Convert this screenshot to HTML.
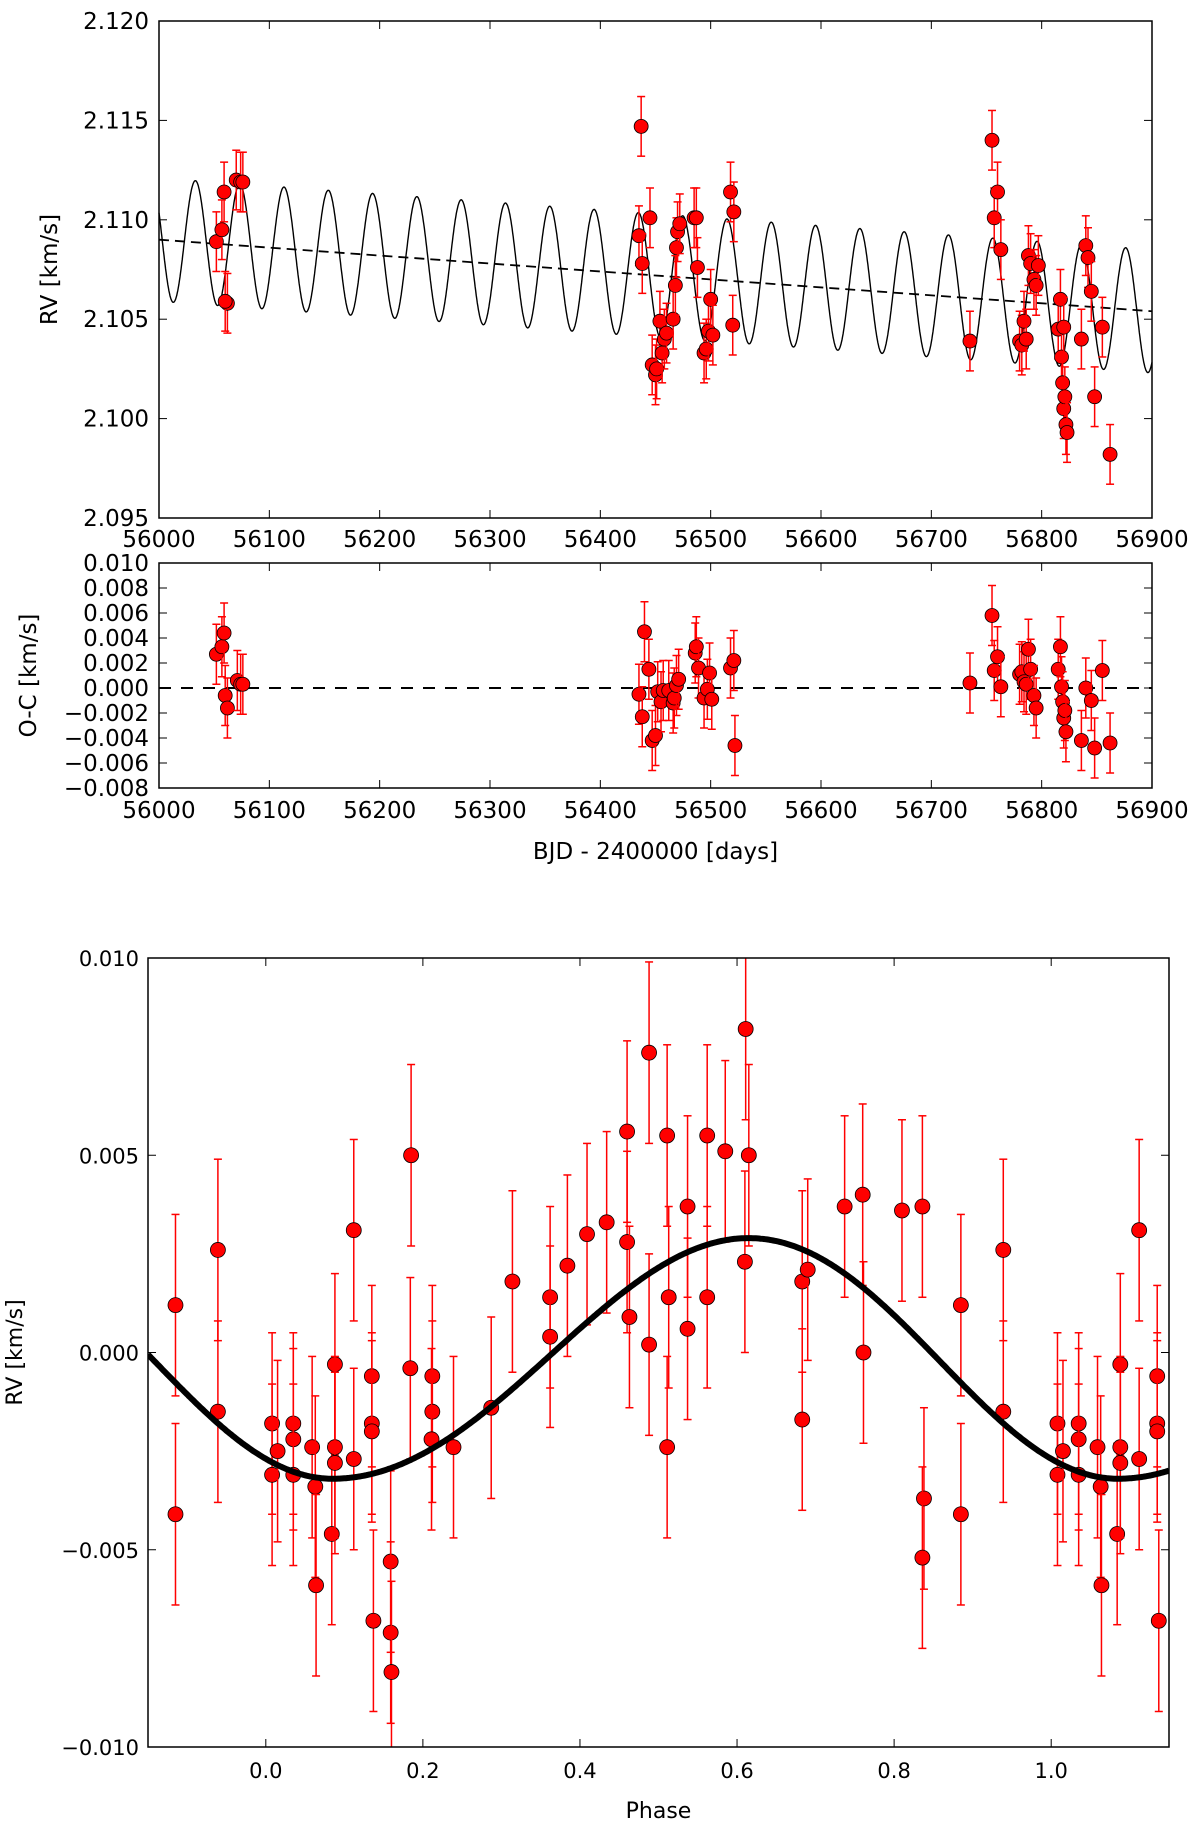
<!DOCTYPE html>
<html><head><meta charset="utf-8"><style>
html,body{margin:0;padding:0;background:#fff;}
svg{display:block;font-family:"DejaVu Sans","Liberation Sans",sans-serif;}
</style></head><body>
<svg id="svg" width="1200" height="1824" viewBox="0 0 1200 1824" xmlns="http://www.w3.org/2000/svg"></svg>
<script>
// ---- top panel: RV vs time ----
const rvTime = [56052,56057,56059,56062,56060,56070,56074,56076,
56435,56437,56438,56445,56447,56450,56451,56454,56456,56458,56460,56466,56468,56469,56470,56472,56485,56487,56488,56494,56496,56498,56500,56502,56518,56521,56520,
56735,56755,56757,56760,56763,56780,56782,56784,56786,56788,56790,56793,56795,56797,56815,56817,56818,56819,56820,56821,56822,56823,56820,56836,56840,56842,56845,56848,56855,56862];
const rvValue = [2.1089,2.1095,2.1114,2.1058,2.1059,2.1120,2.1119,2.1119,
2.1092,2.1147,2.1078,2.1101,2.1027,2.1022,2.1025,2.1049,2.1033,2.1040,2.1043,2.1050,2.1067,2.1086,2.1094,2.1098,2.1101,2.1101,2.1076,2.1033,2.1035,2.1044,2.1060,2.1042,2.1114,2.1104,2.1047,
2.1039,2.1140,2.1101,2.1114,2.1085,2.1039,2.1037,2.1049,2.1040,2.1082,2.1078,2.1070,2.1067,2.1077,2.1045,2.1060,2.1031,2.1018,2.1005,2.1011,2.0997,2.0993,2.1046,2.1040,2.1087,2.1081,2.1064,2.1011,2.1046,2.0982];
const rvErr = 0.0015;
const topYTicks = ["2.095","2.100","2.105","2.110","2.115","2.120"];
const timeTicks = ["56000","56100","56200","56300","56400","56500","56600","56700","56800","56900"];
const trendStart = 2.1090, trendEnd = 2.1054, modelK = 0.0031, modelP = 40.15, modelT0 = 56033;

// ---- middle panel: O-C ----
const ocTime = [56052,56057,56059,56060,56062,56071,56074,56076,
56435,56438,56440,56444,56447,56450,56452,56455,56457,56462,56466,56467,56469,56471,56486,56487,56489,56494,56497,56499,56501,56518,56521,56522,
56735,56755,56757,56760,56763,56780,56782,56784,56786,56788,56790,56793,56795,56815,56817,56818,56819,56820,56821,56822,56836,56840,56845,56848,56855,56862];
const ocValue = [0.0027,0.0033,0.0044,-0.0006,-0.0016,0.0006,0.0003,0.0003,
-0.0005,-0.0023,0.0045,0.0015,-0.0042,-0.0038,-0.0003,-0.0011,-0.0002,-0.0002,-0.0012,-0.0008,0.0002,0.0007,0.0028,0.0033,0.0016,-0.0008,-0.0001,0.0012,-0.0009,0.0016,0.0022,-0.0046,
0.0004,0.0058,0.0014,0.0025,0.0001,0.0011,0.0013,0.0005,0.0003,0.0031,0.0015,-0.0006,-0.0016,0.0015,0.0033,0.0001,-0.0011,-0.0024,-0.0018,-0.0035,-0.0042,0.0000,-0.0010,-0.0048,0.0014,-0.0044];
const ocErr = 0.0024;
const ocYTicks = ["\u22120.008","\u22120.006","\u22120.004","\u22120.002","0.000","0.002","0.004","0.006","0.008","0.010"];

// ---- bottom panel: phase folded ----
const phase = [0.885,0.885,0.939,0.939,0.008,0.008,0.015,0.035,0.035,0.035,0.059,0.063,0.064,0.084,0.088,0.088,0.088,0.112,0.112,0.135,0.135,0.135,0.137,0.159,0.159,0.160,0.185,0.184,0.212,0.212,0.211,0.239,0.287,0.314,0.362,0.362,0.384,0.409,0.434,0.460,0.460,0.463,0.488,0.488,0.511,0.513,0.511,0.537,0.537,0.562,0.562,0.585,0.611,0.615,0.610,0.683,0.683,0.690,0.737,0.760,0.761,0.810,0.836,0.838,0.836];
const phaseRV = [0.0012,-0.0041,0.0026,-0.0015,-0.0018,-0.0031,-0.0025,-0.0018,-0.0022,-0.0031,-0.0024,-0.0034,-0.0059,-0.0046,-0.0003,-0.0024,-0.0028,0.0031,-0.0027,-0.0006,-0.0018,-0.0020,-0.0068,-0.0053,-0.0071,-0.0081,0.0050,-0.0004,-0.0006,-0.0015,-0.0022,-0.0024,-0.0014,0.0018,0.0014,0.0004,0.0022,0.0030,0.0033,0.0056,0.0028,0.0009,0.0076,0.0002,0.0055,0.0014,-0.0024,0.0037,0.0006,0.0055,0.0014,0.0051,0.0082,0.0050,0.0023,0.0018,-0.0017,0.0021,0.0037,0.0040,0.0000,0.0036,0.0037,-0.0037,-0.0052];
const phaseErr = 0.0023;
const phaseYTicks = ["\u22120.010","\u22120.005","0.000","0.005","0.010"];
const phaseXTicks = ["0.0","0.2","0.4","0.6","0.8","1.0"];
const phaseModelMean = -0.00015, phaseModelAmp = 0.00305, phaseModelMin = 0.085, phaseModelSkew = 0.03;

const NS = "http://www.w3.org/2000/svg";
const svg = document.getElementById('svg');
function mk(tag, attrs, parent) {
  const e = document.createElementNS(NS, tag);
  for (const k in attrs) e.setAttribute(k, attrs[k]);
  (parent || svg).appendChild(e);
  return e;
}
function lin(d0, d1, r0, r1) { return v => r0 + (v - d0) / (d1 - d0) * (r1 - r0); }

function frame(g, L, T, R, B) {
  const f = mk('rect', {x: L, y: T, width: R - L, height: B - T, fill: 'none', stroke: '#000', 'stroke-width': 1.5}, g);
  
  
}
function errPoint(g, x, y, y1, y2, r, name) {
  const pg = mk('g', {}, g);
  
  
  mk('line', {x1: x, x2: x, y1: y1, y2: y2, stroke: '#ff0000', 'stroke-width': 1.5}, pg);
  mk('line', {x1: x - 4, x2: x + 4, y1: y1, y2: y1, stroke: '#ff0000', 'stroke-width': 1.5}, pg);
  mk('line', {x1: x - 4, x2: x + 4, y1: y2, y2: y2, stroke: '#ff0000', 'stroke-width': 1.5}, pg);
  mk('circle', {cx: x, cy: y, r: r, fill: '#ff0000', stroke: '#000', 'stroke-width': 0.8}, pg);
}
function text(g, x, y, s, size, anchor, name) {
  const t = mk('text', {x: x, y: y, 'font-size': size, 'text-anchor': anchor, fill: '#000'}, g);
  t.textContent = s;
  
  
  return t;
}

// ===== TOP PANEL =====
(function () {
  const L = 159, R = 1152, T = 21, B = 518;
  const g = mk('g', {});
  
  
  const xs = lin(56000, 56900, L, R), ys = lin(2.095, 2.120, B, T);
  let d = '';
  for (let t = 56000; t <= 56900; t += 0.5) {
    const tr = trendStart + (trendEnd - trendStart) * (t - 56000) / 900;
    const v = tr + modelK * Math.cos(2 * Math.PI * (t - modelT0) / modelP);
    d += (d ? 'L' : 'M') + xs(t).toFixed(1) + ',' + ys(v).toFixed(1);
  }
  const m = mk('path', {d: d, fill: 'none', stroke: '#000', 'stroke-width': 1.4}, g);
  
  
  const tl = mk('line', {x1: xs(56000), x2: xs(56900), y1: ys(trendStart), y2: ys(trendEnd), stroke: '#000', 'stroke-width': 1.8, 'stroke-dasharray': '10,6'}, g);
  
  
  rvTime.forEach((t, i) => {
    errPoint(g, xs(t), ys(rvValue[i]), ys(rvValue[i] + rvErr), ys(rvValue[i] - rvErr), 7, 'rv-point');
  });
  frame(g, L, T, R, B);
  topYTicks.forEach(s => {
    const v = parseFloat(s), y = ys(v);
    mk('line', {x1: L, x2: L + 8, y1: y, y2: y, stroke: '#000', 'stroke-width': 1}, g);
    mk('line', {x1: R, x2: R - 8, y1: y, y2: y, stroke: '#000', 'stroke-width': 1}, g);
    text(g, 149, y + 8, s, 23, 'end', 'y-tick-label');
  });
  timeTicks.forEach(s => {
    const x = xs(parseFloat(s));
    mk('line', {x1: x, x2: x, y1: B, y2: B - 8, stroke: '#000', 'stroke-width': 1}, g);
    mk('line', {x1: x, x2: x, y1: T, y2: T + 8, stroke: '#000', 'stroke-width': 1}, g);
    text(g, x, 547, s, 23, 'middle', 'x-tick-label');
  });
  const yl = text(g, 0, 0, 'RV [km/s]', 23, 'middle', 'y-axis-title');
  yl.setAttribute('transform', 'translate(57,' + ((T + B) / 2) + ') rotate(-90)');
})();

// ===== MIDDLE PANEL =====
(function () {
  const L = 159, R = 1152, T = 563, B = 788;
  const g = mk('g', {});
  
  
  const xs = lin(56000, 56900, L, R), ys = lin(-0.008, 0.010, B, T);
  const zl = mk('line', {x1: L, x2: R, y1: ys(0), y2: ys(0), stroke: '#000', 'stroke-width': 2, 'stroke-dasharray': '12,10'}, g);
  
  
  ocTime.forEach((t, i) => {
    errPoint(g, xs(t), ys(ocValue[i]), ys(ocValue[i] + ocErr), ys(ocValue[i] - ocErr), 7, 'residual-point');
  });
  frame(g, L, T, R, B);
  ocYTicks.forEach(s => {
    const v = parseFloat(s.replace('\u2212', '-')), y = ys(v);
    mk('line', {x1: L, x2: L + 8, y1: y, y2: y, stroke: '#000', 'stroke-width': 1}, g);
    mk('line', {x1: R, x2: R - 8, y1: y, y2: y, stroke: '#000', 'stroke-width': 1}, g);
    text(g, 149, y + 8, s, 23, 'end', 'y-tick-label');
  });
  timeTicks.forEach(s => {
    const x = xs(parseFloat(s));
    mk('line', {x1: x, x2: x, y1: B, y2: B - 8, stroke: '#000', 'stroke-width': 1}, g);
    mk('line', {x1: x, x2: x, y1: T, y2: T + 8, stroke: '#000', 'stroke-width': 1}, g);
    text(g, x, 818, s, 23, 'middle', 'x-tick-label');
  });
  const yl = text(g, 0, 0, 'O-C [km/s]', 23, 'middle', 'y-axis-title');
  yl.setAttribute('transform', 'translate(36,' + ((T + B) / 2) + ') rotate(-90)');
  text(g, (L + R) / 2, 859, 'BJD - 2400000 [days]', 23, 'middle', 'x-axis-title');
})();

// ===== BOTTOM PANEL =====
(function () {
  const L = 148, R = 1169, T = 958, B = 1747;
  const g = mk('g', {});
  
  
  const xs = lin(-0.15, 1.15, L, R), ys = lin(-0.010, 0.010, B, T);
  const clip = mk('clipPath', {id: 'pc'}, g);
  mk('rect', {x: L, y: T, width: R - L, height: B - T}, clip);
  const inner = mk('g', {'clip-path': 'url(#pc)'}, g);
  phase.forEach((p, i) => {
    const list = [p];
    if (p > 0.85) list.push(p - 1);
    if (p < 0.15) list.push(p + 1);
    list.forEach(pp => {
      const v = phaseRV[i];
      errPoint(inner, xs(pp), ys(v), ys(v + phaseErr), ys(v - phaseErr), 7.5, 'phase-point');
    });
  });
  let d = '';
  for (let p = -0.15; p <= 1.1501; p += 0.002) {
    let u = (p - phaseModelMin) % 1;
    if (u < 0) u += 1;
    const w = u - phaseModelSkew * Math.sin(Math.PI * u);
    const v = phaseModelMean - phaseModelAmp * Math.cos(2 * Math.PI * w);
    d += (d ? 'L' : 'M') + xs(p).toFixed(1) + ',' + ys(v).toFixed(1);
  }
  const m = mk('path', {d: d, fill: 'none', stroke: '#000', 'stroke-width': 6}, inner);
  
  
  frame(g, L, T, R, B);
  phaseYTicks.forEach(s => {
    const v = parseFloat(s.replace('\u2212', '-')), y = ys(v);
    mk('line', {x1: L, x2: L + 8, y1: y, y2: y, stroke: '#000', 'stroke-width': 1}, g);
    mk('line', {x1: R, x2: R - 8, y1: y, y2: y, stroke: '#000', 'stroke-width': 1}, g);
    text(g, 139, y + 8, s, 21, 'end', 'y-tick-label');
  });
  phaseXTicks.forEach(s => {
    const x = xs(parseFloat(s));
    mk('line', {x1: x, x2: x, y1: B, y2: B - 8, stroke: '#000', 'stroke-width': 1}, g);
    mk('line', {x1: x, x2: x, y1: T, y2: T + 8, stroke: '#000', 'stroke-width': 1}, g);
    text(g, x, 1778, s, 21, 'middle', 'x-tick-label');
  });
  const yl = text(g, 0, 0, 'RV [km/s]', 22, 'middle', 'y-axis-title');
  yl.setAttribute('transform', 'translate(22,' + ((T + B) / 2) + ') rotate(-90)');
  text(g, (L + R) / 2, 1818, 'Phase', 22, 'middle', 'x-axis-title');
})();
</script>
</body></html>
